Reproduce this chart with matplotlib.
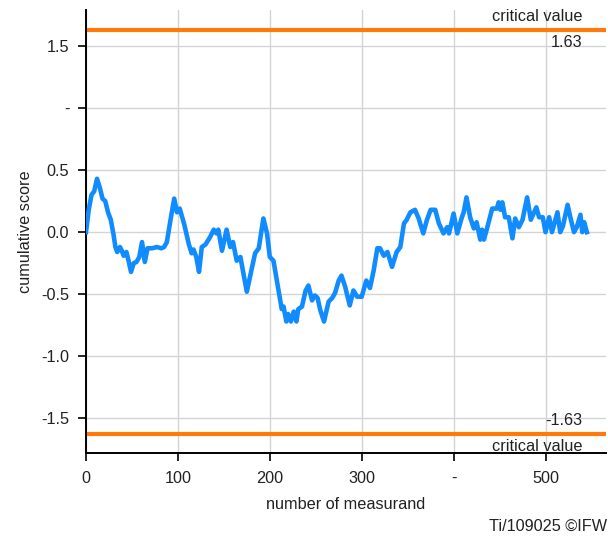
import matplotlib
matplotlib.use('Agg')
import matplotlib.pyplot as plt

plt.rcParams['font.family'] = ['Liberation Sans', 'DejaVu Sans']

# cumulative score path (vertices of the polyline)
measurand = [0, 3, 6, 9, 12, 15, 18, 21, 24, 27, 30, 32, 34, 37, 39, 41, 44, 46, 49, 52,
             55, 58, 61, 64, 67, 72, 77, 82, 85, 88, 92, 96, 99, 102, 107, 112, 115, 117, 120, 123,
             126, 130, 135, 139, 142, 144, 148, 153, 157, 160, 164, 168, 170, 175, 180, 184, 188, 193, 197, 200,
             204, 213, 215, 218, 220, 223, 226, 229, 231, 235, 239, 242, 246, 249, 252, 255, 259, 264, 268, 271,
             275, 278, 282, 287, 291, 295, 300, 305, 309, 313, 317, 320, 324, 328, 333, 338, 342, 346, 349, 353,
             358, 362, 367, 371, 375, 380, 384, 389, 393, 395, 400, 404, 409, 411, 414, 418, 422, 425, 429, 431,
             433, 436, 442, 447, 449, 451, 453, 456, 460, 464, 467, 471, 475, 480, 484, 487, 490, 493, 497, 500,
             504, 507, 513, 516, 519, 524, 527, 531, 534, 538, 540, 542, 545]
score = [0.00, 0.18, 0.30, 0.33, 0.43, 0.36, 0.27, 0.25, 0.16, 0.10, -0.02, -0.12, -0.16, -0.12, -0.15, -0.19, -0.16, -0.22, -0.32, -0.25,
         -0.24, -0.20, -0.08, -0.24, -0.13, -0.13, -0.12, -0.13, -0.12, -0.08, 0.10, 0.27, 0.16, 0.19, 0.06, -0.10, -0.17, -0.14, -0.20, -0.32,
         -0.12, -0.10, -0.04, 0.02, -0.01, 0.02, -0.15, 0.02, -0.12, -0.08, -0.23, -0.20, -0.28, -0.48, -0.31, -0.17, -0.13, 0.11, -0.01, -0.20,
         -0.23, -0.62, -0.60, -0.72, -0.66, -0.72, -0.64, -0.72, -0.62, -0.60, -0.47, -0.43, -0.55, -0.51, -0.53, -0.63, -0.72, -0.56, -0.53, -0.49,
         -0.39, -0.35, -0.44, -0.59, -0.47, -0.52, -0.52, -0.39, -0.45, -0.31, -0.13, -0.13, -0.19, -0.16, -0.28, -0.16, -0.12, 0.07, 0.10, 0.16,
         0.18, 0.11, -0.01, 0.10, 0.18, 0.18, 0.07, -0.01, 0.04, -0.01, 0.15, -0.01, 0.12, 0.16, 0.28, 0.12, 0.03, 0.08, -0.06, 0.02,
         -0.06, 0.02, 0.19, 0.19, 0.24, 0.18, 0.24, 0.12, 0.12, -0.05, 0.11, 0.04, 0.10, 0.28, 0.10, 0.15, 0.20, 0.12, 0.12, 0.00,
         0.12, 0.00, 0.16, 0.00, 0.05, 0.22, 0.12, 0.00, 0.04, 0.14, 0.00, 0.08, 0.00]

critical = 1.63
xticks = [0, 100, 200, 300, 400, 500]
xtick_labels = ['0', '100', '200', '300', '-', '500']
yticks = [-1.5, -1.0, -0.5, 0.0, 0.5, 1.0, 1.5]
ytick_labels = ['-1.5', '-1.0', '-0.5', '0.0', '0.5', '-', '1.5']

fs = 11.7
fig = plt.figure(figsize=(6.08, 5.40), dpi=100)
ax = fig.add_axes([0.1414, 0.161, 0.8556, 0.8205])

ax.plot(measurand, score, color='#118cff', linewidth=3.3, solid_joinstyle='round', zorder=3)
ax.axhline(critical, color='#ff7a0a', linewidth=3, zorder=2)
ax.axhline(-critical, color='#ff7a0a', linewidth=3, zorder=2)

ax.set_xlim(0, 566)
ax.set_ylim(-1.78, 1.79)
ax.set_xticks(xticks)
ax.set_xticklabels(xtick_labels)
ax.set_yticks(yticks)
ax.set_yticklabels(ytick_labels)
ax.tick_params(labelsize=fs, length=6, width=1.2, color='black', labelcolor='#222222',
               direction='out', pad=6)
ax.tick_params(axis='x', pad=7)
ax.grid(True, color='#d4d4d4', linewidth=1)
ax.set_axisbelow(True)

for side in ['top', 'right']:
    ax.spines[side].set_visible(False)
for side in ['left', 'bottom']:
    ax.spines[side].set_linewidth(1.4)

ax.set_xlabel('number of measurand', fontsize=fs, labelpad=8, color='#222222')
ax.set_ylabel('cumulative score', fontsize=fs, labelpad=6, color='#222222')

# labels for the critical limits
tr = ax.get_yaxis_transform()
ax.text(0.955, critical + 0.05, 'critical value', transform=tr,
        ha='right', va='bottom', fontsize=fs, color='#222222')
ax.text(0.955, critical - 0.04, '%.2f' % critical, transform=tr,
        ha='right', va='top', fontsize=fs, color='#222222')
ax.text(0.955, -critical + 0.05, '%.2f' % -critical, transform=tr,
        ha='right', va='bottom', fontsize=fs, color='#222222')
ax.text(0.955, -critical - 0.04, 'critical value', transform=tr,
        ha='right', va='top', fontsize=fs, color='#222222')

fig.text(0.998, 0.012, 'Ti/109025 ©IFW', ha='right', va='bottom', fontsize=fs, color='#222222')

fig.savefig('out.png', dpi=100)
